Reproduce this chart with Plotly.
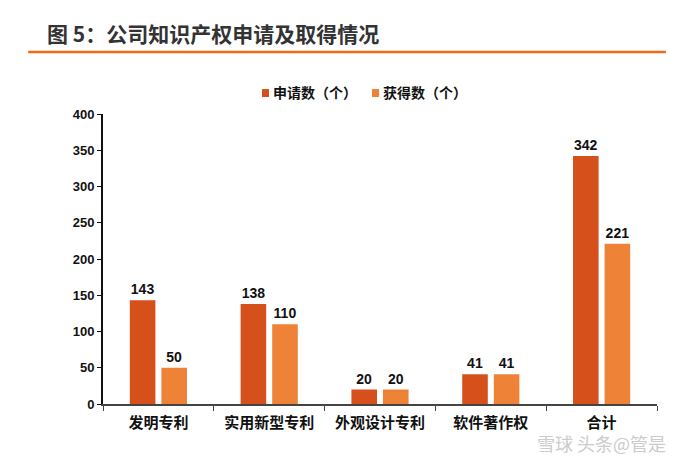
import plotly.graph_objects as go

# ── data ─────────────────────────────────────────────
categories = ["发明专利", "实用新型专利", "外观设计专利", "软件著作权", "合计"]
applied = [143, 138, 20, 41, 342]
granted = [50, 110, 20, 41, 221]
series_names = ["申请数（个）", "获得数（个）"]
y_ticks = [0, 50, 100, 150, 200, 250, 300, 350, 400]

FONT = "Liberation Sans, Arial, Noto Sans CJK SC"
C_APPLIED = "#D6501B"
C_GRANTED = "#EE8236"
colors = [C_APPLIED, C_GRANTED]

fig = go.Figure()
for name, vals, col in zip(series_names, [applied, granted], colors):
    fig.add_trace(go.Bar(
        x=categories, y=vals, name=name,
        marker=dict(color=col, line=dict(width=0)),
        text=vals, textposition="outside", cliponaxis=False,
        textfont=dict(family=FONT, size=14, color="#111", weight="bold"),
        showlegend=False,
    ))

# legend drawn by hand: small swatch + label, tight spacing like the source
legend_shapes = []
legend_notes = []
for i, (name, col) in enumerate(zip(series_names, colors)):
    x0 = [0.287, 0.4856][i]
    legend_shapes.append(dict(type="rect", xref="paper", yref="paper",
                              x0=x0, x1=x0 + 0.0126, y0=1.0586, y1=1.086,
                              fillcolor=col, line=dict(width=0)))
    legend_notes.append(dict(text=name, xref="paper", yref="paper",
                             x=x0 + 0.0162, y=1.0724, xanchor="left", yanchor="middle",
                             showarrow=False,
                             font=dict(family=FONT, size=14, color="#111", weight="bold")))

# page body has an 8px margin, so the figure is 8px smaller and shifted
fig.update_layout(
    width=675, height=458,
    paper_bgcolor="white", plot_bgcolor="white",
    margin=dict(l=95, r=26, t=106, b=62),
    barmode="group", bargap=0.43, bargroupgap=0.19,
    font=dict(family=FONT, size=13, color="#111"),
    xaxis=dict(
        showline=True, linecolor="#444", linewidth=2,
        ticks="outside", tickson="boundaries", ticklen=5, tickcolor="#444",
        tickfont=dict(family=FONT, size=15, color="#111", weight="bold"),
        ticklabelstandoff=4,
        showgrid=False,
    ),
    yaxis=dict(
        range=[0, 400], tickvals=y_ticks,
        showline=True, linecolor="#111", linewidth=2,
        ticks="outside", ticklen=4, tickcolor="#111",
        tickfont=dict(family=FONT, size=13, color="#111", weight="bold"),
        showgrid=False, zeroline=False,
    ),
    shapes=[dict(type="line", xref="paper", yref="paper",
                 x0=-0.135, x1=1.016, y0=1.214, y1=1.214,
                 line=dict(color="#F06A12", width=2.5))] + legend_shapes,
    annotations=[
        dict(text="图 5：公司知识产权申请及取得情况", xref="paper", yref="paper",
             x=-0.105, y=1.279, xanchor="left", yanchor="middle", showarrow=False,
             font=dict(family="Noto Sans CJK SC, Liberation Sans", size=21,
                       color="#333", weight="bold")),
        dict(text="雪球 头条@管是", xref="paper", yref="paper",
             x=1.02, y=-0.136, xanchor="right", yanchor="middle", showarrow=False,
             font=dict(family="Noto Sans CJK SC", size=18, color="#cccccc")),
    ] + legend_notes,
)

fig.write_html("out.html")
